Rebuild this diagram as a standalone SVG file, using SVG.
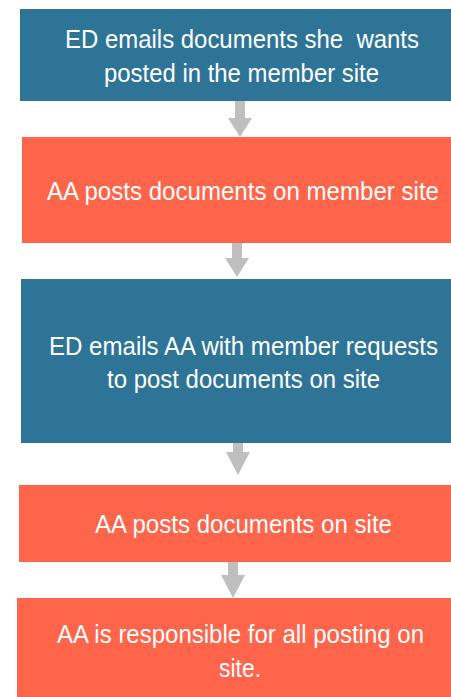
<svg xmlns="http://www.w3.org/2000/svg" width="451" height="697" viewBox="0 0 451 697">
<style>
.blue{fill:#2E7497}
.orange{fill:#FF654A}
.t{fill:#FFFFFF;font-family:"Liberation Sans Narrow","Liberation Sans",Arial,sans-serif;font-size:26px;white-space:pre}
.arrow{fill:#BFBFBF}
</style>
<rect width="451" height="697" fill="#FFFFFF"/>
<g id="connectors">
<polygon class="arrow" points="235,101 245,101 245,118 252,118 240,137 228,118 235,118"/>
<polygon class="arrow" points="232,243 242,243 242,258 249,258 237,277 225,258 232,258"/>
<polygon class="arrow" points="233,443 243,443 243,452 250,452 238,475 226,452 233,452"/>
<polygon class="arrow" points="228,562 238,562 238,575 245,575 233,598 221,575 228,575"/>
</g>
<g id="node1">
<rect class="blue" x="20" y="9" width="431" height="92"/>
<text class="t" x="65" y="48" textLength="354" lengthAdjust="spacingAndGlyphs">ED emails documents she  wants</text>
<text class="t" x="104" y="82" textLength="275" lengthAdjust="spacingAndGlyphs">posted in the member site</text>
</g>
<g id="node2">
<rect class="orange" x="22" y="137" width="429" height="106"/>
<text class="t" x="47" y="200" textLength="392" lengthAdjust="spacingAndGlyphs">AA posts documents on member site</text>
</g>
<g id="node3">
<rect class="blue" x="21" y="279" width="430" height="164"/>
<text class="t" x="49" y="355" textLength="389" lengthAdjust="spacingAndGlyphs">ED emails AA with member requests</text>
<text class="t" x="107" y="388" textLength="273" lengthAdjust="spacingAndGlyphs">to post documents on site</text>
</g>
<g id="node4">
<rect class="orange" x="19" y="485" width="432" height="77"/>
<text class="t" x="95" y="533" textLength="297" lengthAdjust="spacingAndGlyphs">AA posts documents on site</text>
</g>
<g id="node5">
<rect class="orange" x="17" y="598" width="434" height="99"/>
<text class="t" x="57" y="643" textLength="367" lengthAdjust="spacingAndGlyphs">AA is responsible for all posting on</text>
<text class="t" x="219" y="677" textLength="42" lengthAdjust="spacingAndGlyphs">site.</text>
</g>
</svg>
